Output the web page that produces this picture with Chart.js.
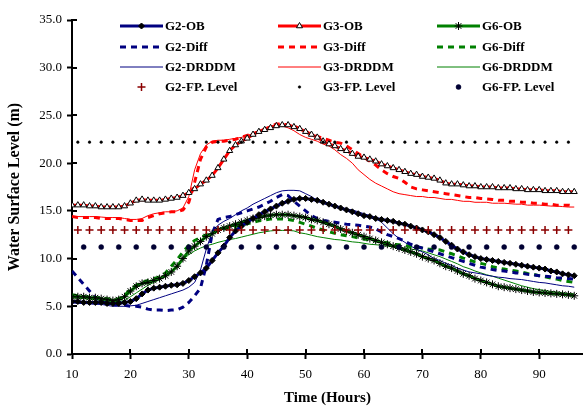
<!DOCTYPE html>
<html lang="en">
<head>
<meta charset="UTF-8">
<title>Water Surface Level</title>
<script src="https://cdn.jsdelivr.net/npm/chart.js@4.4.1/dist/chart.umd.min.js"></script>
<style>
  html, body { margin: 0; padding: 0; background: #fff; }
  #wrap { width: 583px; height: 408px; }
</style>
</head>
<body>
<div id="wrap"><canvas id="levelChart" width="583" height="408"></canvas></div>
<script>
// hourly readings, 10 h to 96 h
const hours = [10, 11, 12, 13, 14, 15, 16, 17, 18, 19,
  20, 21, 22, 23, 24, 25, 26, 27, 28, 29,
  30, 31, 32, 33, 34, 35, 36, 37, 38, 39,
  40, 41, 42, 43, 44, 45, 46, 47, 48, 49,
  50, 51, 52, 53, 54, 55, 56, 57, 58, 59,
  60, 61, 62, 63, 64, 65, 66, 67, 68, 69,
  70, 71, 72, 73, 74, 75, 76, 77, 78, 79,
  80, 81, 82, 83, 84, 85, 86, 87, 88, 89,
  90, 91, 92, 93, 94, 95, 96];

const g2Ob = [5.5, 5.5, 5.4, 5.4, 5.4, 5.4, 5.3, 5.3, 5.3, 5.4,
  5.5, 5.8, 6.3, 6.7, 6.9, 7.0, 7.1, 7.2, 7.25, 7.4,
  7.7, 8.1, 8.5, 9.0, 9.8, 10.6, 11.3, 12.2, 12.9, 13.4,
  13.8, 14.2, 14.6, 14.9, 15.2, 15.5, 15.8, 16.0, 16.2, 16.3,
  16.3, 16.2, 16.1, 15.9, 15.7, 15.5, 15.3, 15.1, 14.9, 14.7,
  14.5, 14.4, 14.2, 14.1, 14.0, 13.9, 13.7, 13.6, 13.4, 13.2,
  13.0, 12.8, 12.5, 12.2, 11.8, 11.4, 11.0, 10.7, 10.4, 10.2,
  10.0, 9.9, 9.8, 9.7, 9.6, 9.5, 9.4, 9.3, 9.2, 9.1,
  9.0, 8.9, 8.7, 8.6, 8.4, 8.3, 8.2];
const g2Diff = [8.7, 8.0, 7.3, 6.6, 5.9, 5.5, 5.3, 5.2, 5.2, 5.1,
  5.0, 5.0, 4.9, 4.7, 4.6, 4.6, 4.55, 4.6, 4.65, 4.9,
  5.4, 6.1, 6.9, 9.3, 12.6, 14.1, 14.3, 14.4, 14.6, 14.8,
  15.0, 15.2, 15.4, 15.7, 16.0, 16.4, 16.7, 16.6, 16.0, 15.5,
  15.0, 14.5, 14.2, 14.0, 13.9, 13.8, 13.7, 13.6, 13.55, 13.5,
  13.4, 13.3, 13.1, 12.8, 12.5, 12.3, 12.1, 11.8, 11.5, 11.3,
  11.1, 10.9, 10.7, 10.5, 10.3, 10.1, 9.9, 9.7, 9.5, 9.3,
  9.1, 9.0, 8.85, 8.75, 8.7, 8.6, 8.5, 8.45, 8.35, 8.3,
  8.2, 8.15, 8.1, 8.0, 7.95, 7.9, 7.85];
const g2Drddm = [5.35, 5.3, 5.3, 5.25, 5.2, 5.2, 5.1, 5.0, 5.0, 5.0,
  5.05, 5.1, 5.3, 5.5, 5.7, 5.9, 6.1, 6.3, 6.5, 6.7,
  7.0, 7.5, 8.8, 11.0, 12.8, 13.5, 13.9, 14.2, 14.6, 15.0,
  15.3, 15.7, 16.0, 16.3, 16.6, 16.9, 17.1, 17.15, 17.15, 17.1,
  16.8, 16.5, 16.1, 15.8, 15.6, 15.4, 15.3, 15.2, 15.1, 14.9,
  14.7, 14.5, 14.2, 13.8, 13.2, 12.6, 12.1, 11.7, 11.3, 11.0,
  10.7, 10.4, 10.0, 9.8, 9.5, 9.3, 9.0, 8.8, 8.6, 8.5,
  8.4, 8.25, 8.15, 8.05, 8.0, 7.9, 7.85, 7.8, 7.7, 7.6,
  7.5, 7.45, 7.35, 7.25, 7.15, 7.1, 7.0];

const g3Ob = [15.6, 15.6, 15.6, 15.5, 15.5, 15.4, 15.4, 15.4, 15.4, 15.5,
  15.8, 16.1, 16.2, 16.1, 16.1, 16.1, 16.2, 16.3, 16.4, 16.6,
  16.9, 17.3, 17.8, 18.2, 18.7, 19.5, 20.4, 21.3, 21.9, 22.3,
  22.6, 23.0, 23.3, 23.5, 23.7, 23.9, 24.0, 24.0, 23.8, 23.6,
  23.3, 23.0, 22.7, 22.3, 22.0, 21.8, 21.5, 21.3, 21.0, 20.7,
  20.6, 20.4, 20.2, 19.9, 19.7, 19.5, 19.3, 19.1, 18.9, 18.8,
  18.6, 18.5, 18.4, 18.2, 17.9, 17.8, 17.8, 17.7, 17.6, 17.6,
  17.5, 17.5, 17.5, 17.4, 17.4, 17.4, 17.3, 17.3, 17.2, 17.2,
  17.2, 17.1, 17.1, 17.1, 17.0, 17.0, 17.0];
const g3Diff = [14.4, 14.3, 14.3, 14.3, 14.3, 14.2, 14.2, 14.2, 14.2, 14.1,
  14.0, 14.0, 14.0, 14.3, 14.5, 14.7, 14.8, 14.9, 14.9, 15.1,
  15.9, 18.0, 20.4, 21.7, 22.2, 22.3, 22.3, 22.4, 22.5, 22.7,
  22.9, 23.1, 23.3, 23.5, 23.8, 24.1, 24.1, 24.0, 23.9, 23.6,
  23.3, 23.0, 22.8, 22.6, 22.4, 22.2, 22.1, 21.8, 21.4, 21.0,
  20.6, 20.2, 19.8, 19.3, 18.9, 18.6, 18.4, 18.0, 17.5, 17.3,
  17.2, 17.1, 17.0, 16.9, 16.8, 16.7, 16.6, 16.5, 16.4, 16.4,
  16.3, 16.25, 16.2, 16.1, 16.1, 16.0, 16.0, 15.9, 15.9, 15.8,
  15.8, 15.7, 15.7, 15.6, 15.6, 15.6, 15.5];
const g3Drddm = [14.4, 14.4, 14.4, 14.4, 14.4, 14.35, 14.3, 14.3, 14.3, 14.2,
  14.1, 14.1, 14.2, 14.5, 14.7, 14.8, 14.9, 14.9, 15.0, 15.3,
  16.5, 19.3, 21.0, 21.9, 22.3, 22.4, 22.4, 22.5, 22.6, 22.7,
  22.9, 23.1, 23.4, 23.7, 23.9, 24.0, 23.9, 23.7, 23.4, 23.0,
  22.7, 22.5, 22.3, 22.0, 21.8, 21.4, 20.9, 20.5, 20.0, 19.3,
  18.8, 18.3, 17.9, 17.6, 17.3, 17.0, 16.8, 16.7, 16.6, 16.5,
  16.5, 16.4, 16.4, 16.3, 16.2, 16.2, 16.1, 16.0, 16.0, 15.9,
  15.9, 15.9, 15.8, 15.8, 15.8, 15.75, 15.7, 15.7, 15.6, 15.6,
  15.6, 15.55, 15.5, 15.5, 15.45, 15.4, 15.4];

const g6Ob = [6.0, 6.0, 6.0, 5.9, 5.9, 5.8, 5.7, 5.6, 5.7, 6.0,
  6.6, 7.1, 7.4, 7.5, 7.7, 7.9, 8.2, 8.6, 9.2, 10.0,
  10.8, 11.3, 11.8, 12.3, 12.6, 13.0, 13.2, 13.4, 13.6, 13.8,
  14.0, 14.2, 14.3, 14.45, 14.55, 14.6, 14.6, 14.6, 14.5, 14.4,
  14.3, 14.1, 14.0, 13.8, 13.6, 13.4, 13.1, 12.9, 12.7, 12.5,
  12.3, 12.1, 11.9, 11.7, 11.5, 11.3, 11.1, 10.9, 10.7, 10.5,
  10.2, 10.0, 9.8, 9.5, 9.2, 9.0, 8.7, 8.4, 8.2, 7.9,
  7.7, 7.5, 7.3, 7.1, 7.0, 6.9, 6.8, 6.7, 6.6, 6.5,
  6.45, 6.4, 6.35, 6.3, 6.25, 6.2, 6.1];
const g6Diff = [6.2, 6.1, 6.0, 6.0, 5.9, 5.9, 5.8, 5.7, 5.8, 6.1,
  6.8, 7.2, 7.5, 7.7, 7.9, 8.1, 8.5, 9.2, 9.9, 10.7,
  11.4, 11.9, 12.2, 12.5, 12.7, 12.9, 13.1, 13.2, 13.35, 13.5,
  13.65, 13.8, 13.95, 14.05, 14.15, 14.15, 14.15, 14.1, 14.0, 13.8,
  13.6, 13.4, 13.15, 13.0, 12.8, 12.65, 12.5, 12.4, 12.3, 12.15,
  12.05, 11.95, 11.85, 11.75, 11.65, 11.5, 11.45, 11.35, 11.25, 11.2,
  11.1, 11.0, 10.95, 10.9, 10.7, 10.5, 10.3, 10.05, 9.85, 9.65,
  9.5, 9.35, 9.15, 9.0, 8.9, 8.8, 8.7, 8.6, 8.45, 8.35,
  8.2, 8.1, 7.95, 7.85, 7.7, 7.6, 7.5];
const g6Drddm = [5.9, 5.85, 5.8, 5.75, 5.7, 5.6, 5.55, 5.5, 5.5, 5.6,
  6.0, 6.4, 6.8, 7.2, 7.5, 7.8, 8.1, 8.6, 9.3, 9.9,
  10.4, 10.8, 11.1, 11.35, 11.5, 11.7, 11.85, 12.0, 12.1, 12.25,
  12.4, 12.55, 12.7, 12.8, 12.9, 12.95, 12.95, 12.95, 12.9, 12.7,
  12.6, 12.45, 12.3, 12.2, 12.1, 12.0, 11.95, 11.85, 11.75, 11.7,
  11.6, 11.5, 11.45, 11.4, 11.3, 11.25, 11.2, 11.1, 11.0, 10.9,
  10.8, 10.6, 10.4, 10.2, 9.95, 9.7, 9.45, 9.15, 8.95, 8.7,
  8.5, 8.3, 8.15, 7.95, 7.75, 7.55, 7.35, 7.15, 7.0, 6.85,
  6.75, 6.65, 6.55, 6.5, 6.4, 6.35, 6.3];

// flood-plain levels, marked every 2 h (G2, G3) and every 3 h (G6)
const fpHours = [11, 13, 15, 17, 19, 21, 23, 25, 27, 29, 31, 33, 35, 37, 39,
  41, 43, 45, 47, 49, 51, 53, 55, 57, 59, 61, 63, 65, 67, 69, 71, 73, 75, 77, 79,
  81, 83, 85, 87, 89, 91, 93, 95];
const g2Fp = [13.0, 13.0, 13.0, 13.0, 13.0, 13.0, 13.0, 13.0, 13.0, 13.0, 13.0,
  13.0, 13.0, 13.0, 13.0, 13.0, 13.0, 13.0, 13.0, 13.0, 13.0, 13.0, 13.0, 13.0,
  13.0, 13.0, 13.0, 13.0, 13.0, 13.0, 13.0, 13.0, 13.0, 13.0, 13.0, 13.0, 13.0,
  13.0, 13.0, 13.0, 13.0, 13.0, 13.0];
const g3Fp = [22.2, 22.2, 22.2, 22.2, 22.2, 22.2, 22.2, 22.2, 22.2, 22.2, 22.2,
  22.2, 22.2, 22.2, 22.2, 22.2, 22.2, 22.2, 22.2, 22.2, 22.2, 22.2, 22.2, 22.2,
  22.2, 22.2, 22.2, 22.2, 22.2, 22.2, 22.2, 22.2, 22.2, 22.2, 22.2, 22.2, 22.2,
  22.2, 22.2, 22.2, 22.2, 22.2, 22.2];
const g6FpHours = [12, 15, 18, 21, 24, 27, 30, 33, 36, 39, 42, 45, 48, 51, 54,
  57, 60, 63, 66, 69, 72, 75, 78, 81, 84, 87, 90, 93, 96];
const g6Fp = [11.2, 11.2, 11.2, 11.2, 11.2, 11.2, 11.2, 11.2, 11.2, 11.2, 11.2,
  11.2, 11.2, 11.2, 11.2, 11.2, 11.2, 11.2, 11.2, 11.2, 11.2, 11.2, 11.2, 11.2,
  11.2, 11.2, 11.2, 11.2, 11.2];

const xTicks = [10, 20, 30, 40, 50, 60, 70, 80, 90];
const yTicks = [0, 5, 10, 15, 20, 25, 30, 35];

const NAVY = '#000080', RED = '#ff0000', GREEN = '#008000';
const serif = '"Liberation Serif", "Times New Roman", serif';

function pts(xs, ys) {
  return xs.map((x, i) => ({ x: x, y: ys[i] }));
}

function obSet(label, color, vals, style, radius, fill) {
  return {
    label: label, data: pts(hours, vals), borderColor: color, borderWidth: 3,
    pointStyle: style, pointRadius: radius, pointBackgroundColor: fill,
    pointBorderColor: '#000', pointBorderWidth: 1, order: 1
  };
}
function diffSet(label, color, vals) {
  return {
    label: label, data: pts(hours, vals), borderColor: color, borderWidth: 3,
    borderDash: [6, 5], pointRadius: 0, order: 2
  };
}
function drddmSet(label, color, vals) {
  return {
    label: label, data: pts(hours, vals), borderColor: color, borderWidth: 1,
    pointRadius: 0, order: 3
  };
}
function fpSet(label, xs, vals, style, radius, color, bw) {
  return {
    label: label, data: pts(xs, vals), showLine: false, pointStyle: style,
    pointRadius: radius, pointBackgroundColor: color, pointBorderColor: color,
    pointBorderWidth: bw, order: 0
  };
}

// legend drawn as a 3 x 4 table inside the plot, like the original
const legendCols = { G2: 120, G3: 278, G6: 437 };
const legendRows = { OB: 26, Diff: 47, DRDDM: 67, FP: 87 };

const tableLegend = {
  id: 'tableLegend',
  afterDraw(chart) {
    const ctx = chart.ctx;
    chart.data.datasets.forEach(ds => {
      const key = ds.label.split('-');
      const row = key[1].startsWith('FP') ? 'FP' : key[1];
      const x0 = legendCols[key[0]], x1 = x0 + 43, y = legendRows[row];
      ctx.save();
      if (ds.showLine !== false) {
        ctx.strokeStyle = ds.borderColor;
        ctx.lineWidth = ds.borderWidth;
        ctx.setLineDash(ds.borderDash || []);
        ctx.beginPath();
        ctx.moveTo(x0, y);
        ctx.lineTo(x1, y);
        ctx.stroke();
      }
      if (ds.pointRadius > 0) {
        ctx.setLineDash([]);
        ctx.fillStyle = ds.pointBackgroundColor;
        ctx.strokeStyle = ds.pointBorderColor;
        ctx.lineWidth = ds.pointBorderWidth;
        Chart.helpers.drawPoint(ctx, {
          pointStyle: ds.pointStyle, radius: ds.pointRadius,
          borderWidth: ds.pointBorderWidth, rotation: 0
        }, (x0 + x1) / 2, y);
      }
      ctx.fillStyle = '#000';
      ctx.font = 'bold 13px ' + serif;
      ctx.textBaseline = 'middle';
      ctx.textAlign = 'left';
      ctx.fillText(ds.label, x1 + 2, y + 1);
      ctx.restore();
    });
  }
};

// the original uses "cross" tick marks, add the inner half
const innerTicks = {
  id: 'innerTicks',
  afterDraw(chart) {
    const ctx = chart.ctx, xs = chart.scales.x, ys = chart.scales.y;
    ctx.save();
    ctx.strokeStyle = '#000';
    ctx.lineWidth = 2;
    ctx.beginPath();
    yTicks.forEach(v => {
      const py = Math.round(ys.getPixelForValue(v));
      ctx.moveTo(xs.left, py);
      ctx.lineTo(xs.left + 5, py);
    });
    xTicks.forEach(v => {
      const px = Math.round(xs.getPixelForValue(v));
      ctx.moveTo(px, ys.bottom);
      ctx.lineTo(px, ys.bottom - 5);
    });
    ctx.stroke();
    ctx.restore();
  }
};

Chart.defaults.font.family = serif;
Chart.defaults.color = '#000';

const ctx = document.getElementById('levelChart').getContext('2d');
const chart = new Chart(ctx, {
  type: 'line',
  data: {
    datasets: [
      obSet('G2-OB', NAVY, g2Ob, 'rectRot', 3, '#000'),
      obSet('G3-OB', RED, g3Ob, 'triangle', 3.5, '#ffffff'),
      obSet('G6-OB', GREEN, g6Ob, 'star', 4, '#000'),
      diffSet('G2-Diff', NAVY, g2Diff),
      diffSet('G3-Diff', RED, g3Diff),
      diffSet('G6-Diff', GREEN, g6Diff),
      drddmSet('G2-DRDDM', NAVY, g2Drddm),
      drddmSet('G3-DRDDM', RED, g3Drddm),
      drddmSet('G6-DRDDM', GREEN, g6Drddm),
      fpSet('G2-FP. Level', fpHours, g2Fp, 'cross', 4, '#8b0000', 1.5),
      fpSet('G3-FP. Level', fpHours, g3Fp, 'circle', 1.3, '#000', 0.5),
      fpSet('G6-FP. Level', g6FpHours, g6Fp, 'circle', 2.5, '#000033', 0.5)
    ]
  },
  options: {
    responsive: false,
    animation: false,
    devicePixelRatio: 1,
    layout: { autoPadding: false, padding: { left: 0, right: 0, top: 20, bottom: 0 } },
    elements: { line: { tension: 0 } },
    plugins: { legend: { display: false }, tooltip: { enabled: false } },
    scales: {
      x: {
        type: 'linear', min: 10, max: 97.5,
        afterFit: s => { s.height = 54; },
        afterBuildTicks: s => { s.ticks = xTicks.map(v => ({ value: v })); },
        ticks: { font: { size: 13 }, padding: 8, color: '#000' },
        grid: { drawOnChartArea: false, tickLength: 5, tickWidth: 2, tickColor: '#000' },
        border: { color: '#000', width: 2 },
        title: {
          display: true, text: 'Time (Hours)', color: '#000',
          font: { size: 15, weight: 'bold' }, padding: { top: 0, bottom: 1 }
        }
      },
      y: {
        min: 0, max: 35,
        afterFit: s => { s.width = 72; },
        afterBuildTicks: s => { s.ticks = yTicks.map(v => ({ value: v })); },
        ticks: { font: { size: 13 }, padding: 5, color: '#000', callback: v => v.toFixed(1) },
        grid: { drawOnChartArea: false, tickLength: 5, tickWidth: 2, tickColor: '#000' },
        border: { color: '#000', width: 2 },
        title: {
          display: true, text: 'Water Surface Level (m)', color: '#000',
          font: { size: 16, weight: 'bold' }, padding: { top: 5, bottom: 0 }
        }
      }
    }
  },
  plugins: [tableLegend, innerTicks]
});
</script>
</body>
</html>
